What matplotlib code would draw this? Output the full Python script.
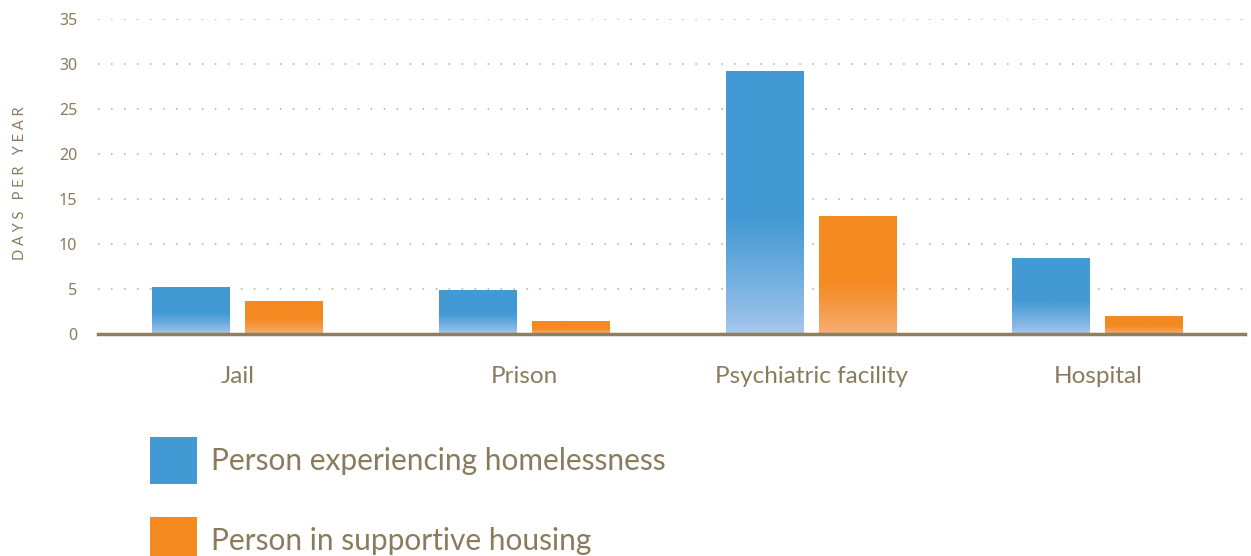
import numpy as np
import matplotlib
matplotlib.use('Agg')
import matplotlib.pyplot as plt
from matplotlib.colors import to_rgb
from matplotlib.patches import Rectangle

# data
categories = ['Jail', 'Prison', 'Psychiatric facility', 'Hospital']
homeless = [5.2, 4.8, 29.2, 8.4]
supportive = [3.6, 1.4, 13.1, 2.0]
series_labels = ['Person experiencing homelessness', 'Person in supportive housing']
yticks = [0, 5, 10, 15, 20, 25, 30, 35]

TXT = '#8a7b5c'
BLUE, BLUE_LIGHT = '#4399d4', '#abc9ee'
ORANGE, ORANGE_LIGHT = '#f38a20', '#f7b07b'

plt.rcParams['font.family'] = ['Lato', 'DejaVu Sans']

fig = plt.figure(figsize=(12.51, 5.56), dpi=100)
ax = fig.add_axes([98 / 1251, 1 - 334 / 556, (1245 - 98) / 1251, (334 - 19) / 556])

x = np.arange(len(categories))
w = 0.272
off = 0.162


def gradient_bars(bars, top, bottom):
    c_top = np.array(to_rgb(top))
    c_bot = np.array(to_rgb(bottom))
    n = 200
    t = np.linspace(0, 1, n)
    # light at the bottom, full colour from ~45% of the bar upwards
    f = np.clip(t / 0.45, 0, 1) ** 0.8
    cols = c_bot[None, :] * (1 - f[:, None]) + c_top[None, :] * f[:, None]
    img = cols[:, None, :]
    for b in bars:
        x0, y0 = b.get_x(), b.get_y()
        ax.imshow(img, extent=(x0, x0 + b.get_width(), y0, y0 + b.get_height()),
                  origin='lower', aspect='auto', zorder=3, interpolation='bilinear')
        b.set_visible(False)


b1 = ax.bar(x - off, homeless, w, color=BLUE, zorder=3)
b2 = ax.bar(x + off, supportive, w, color=ORANGE, zorder=3)
gradient_bars(b1, BLUE, BLUE_LIGHT)
gradient_bars(b2, ORANGE, ORANGE_LIGHT)

ax.set_xlim(-0.487, 3.513)
ax.set_ylim(0, 35)
ax.set_yticks(yticks)
ax.set_yticklabels([str(v) for v in yticks], fontsize=11.5, color=TXT,
                   family=['Noto Sans', 'DejaVu Sans'])
ax.set_xticks(x)
ax.set_xticklabels(categories, fontsize=17.5, color=TXT)
ax.tick_params(axis='both', length=0)
ax.tick_params(axis='y', pad=15)
ax.tick_params(axis='x', pad=23)

for v in yticks[1:]:
    ax.axhline(v, color='#b8a98a', linestyle=(0, (1, 7.5)), linewidth=1.1, zorder=1)

for s in ['top', 'right', 'left']:
    ax.spines[s].set_visible(False)
ax.spines['bottom'].set_color('#8f7f5e')
ax.spines['bottom'].set_linewidth(2.5)
ax.spines['bottom'].set_zorder(4)

fig.text(20 / 1251, 1 - 183 / 556, 'D A Y S   P E R   Y E A R', rotation=90, ha='center',
         va='center', fontsize=10.5, color=TXT)

# legend drawn by hand below the plot
leg_colors = [BLUE, ORANGE]
leg_y = [437, 517]
for c, yy, lab in zip(leg_colors, leg_y, series_labels):
    fig.patches.append(Rectangle((150 / 1251, 1 - (yy + 47) / 556), 47 / 1251, 47 / 556,
                                 transform=fig.transFigure, facecolor=c, edgecolor='none'))
    fig.text(211 / 1251, 1 - (yy + 24) / 556, lab, ha='left', va='center',
             fontsize=21.5, color=TXT)

fig.savefig('out.png', dpi=100)
